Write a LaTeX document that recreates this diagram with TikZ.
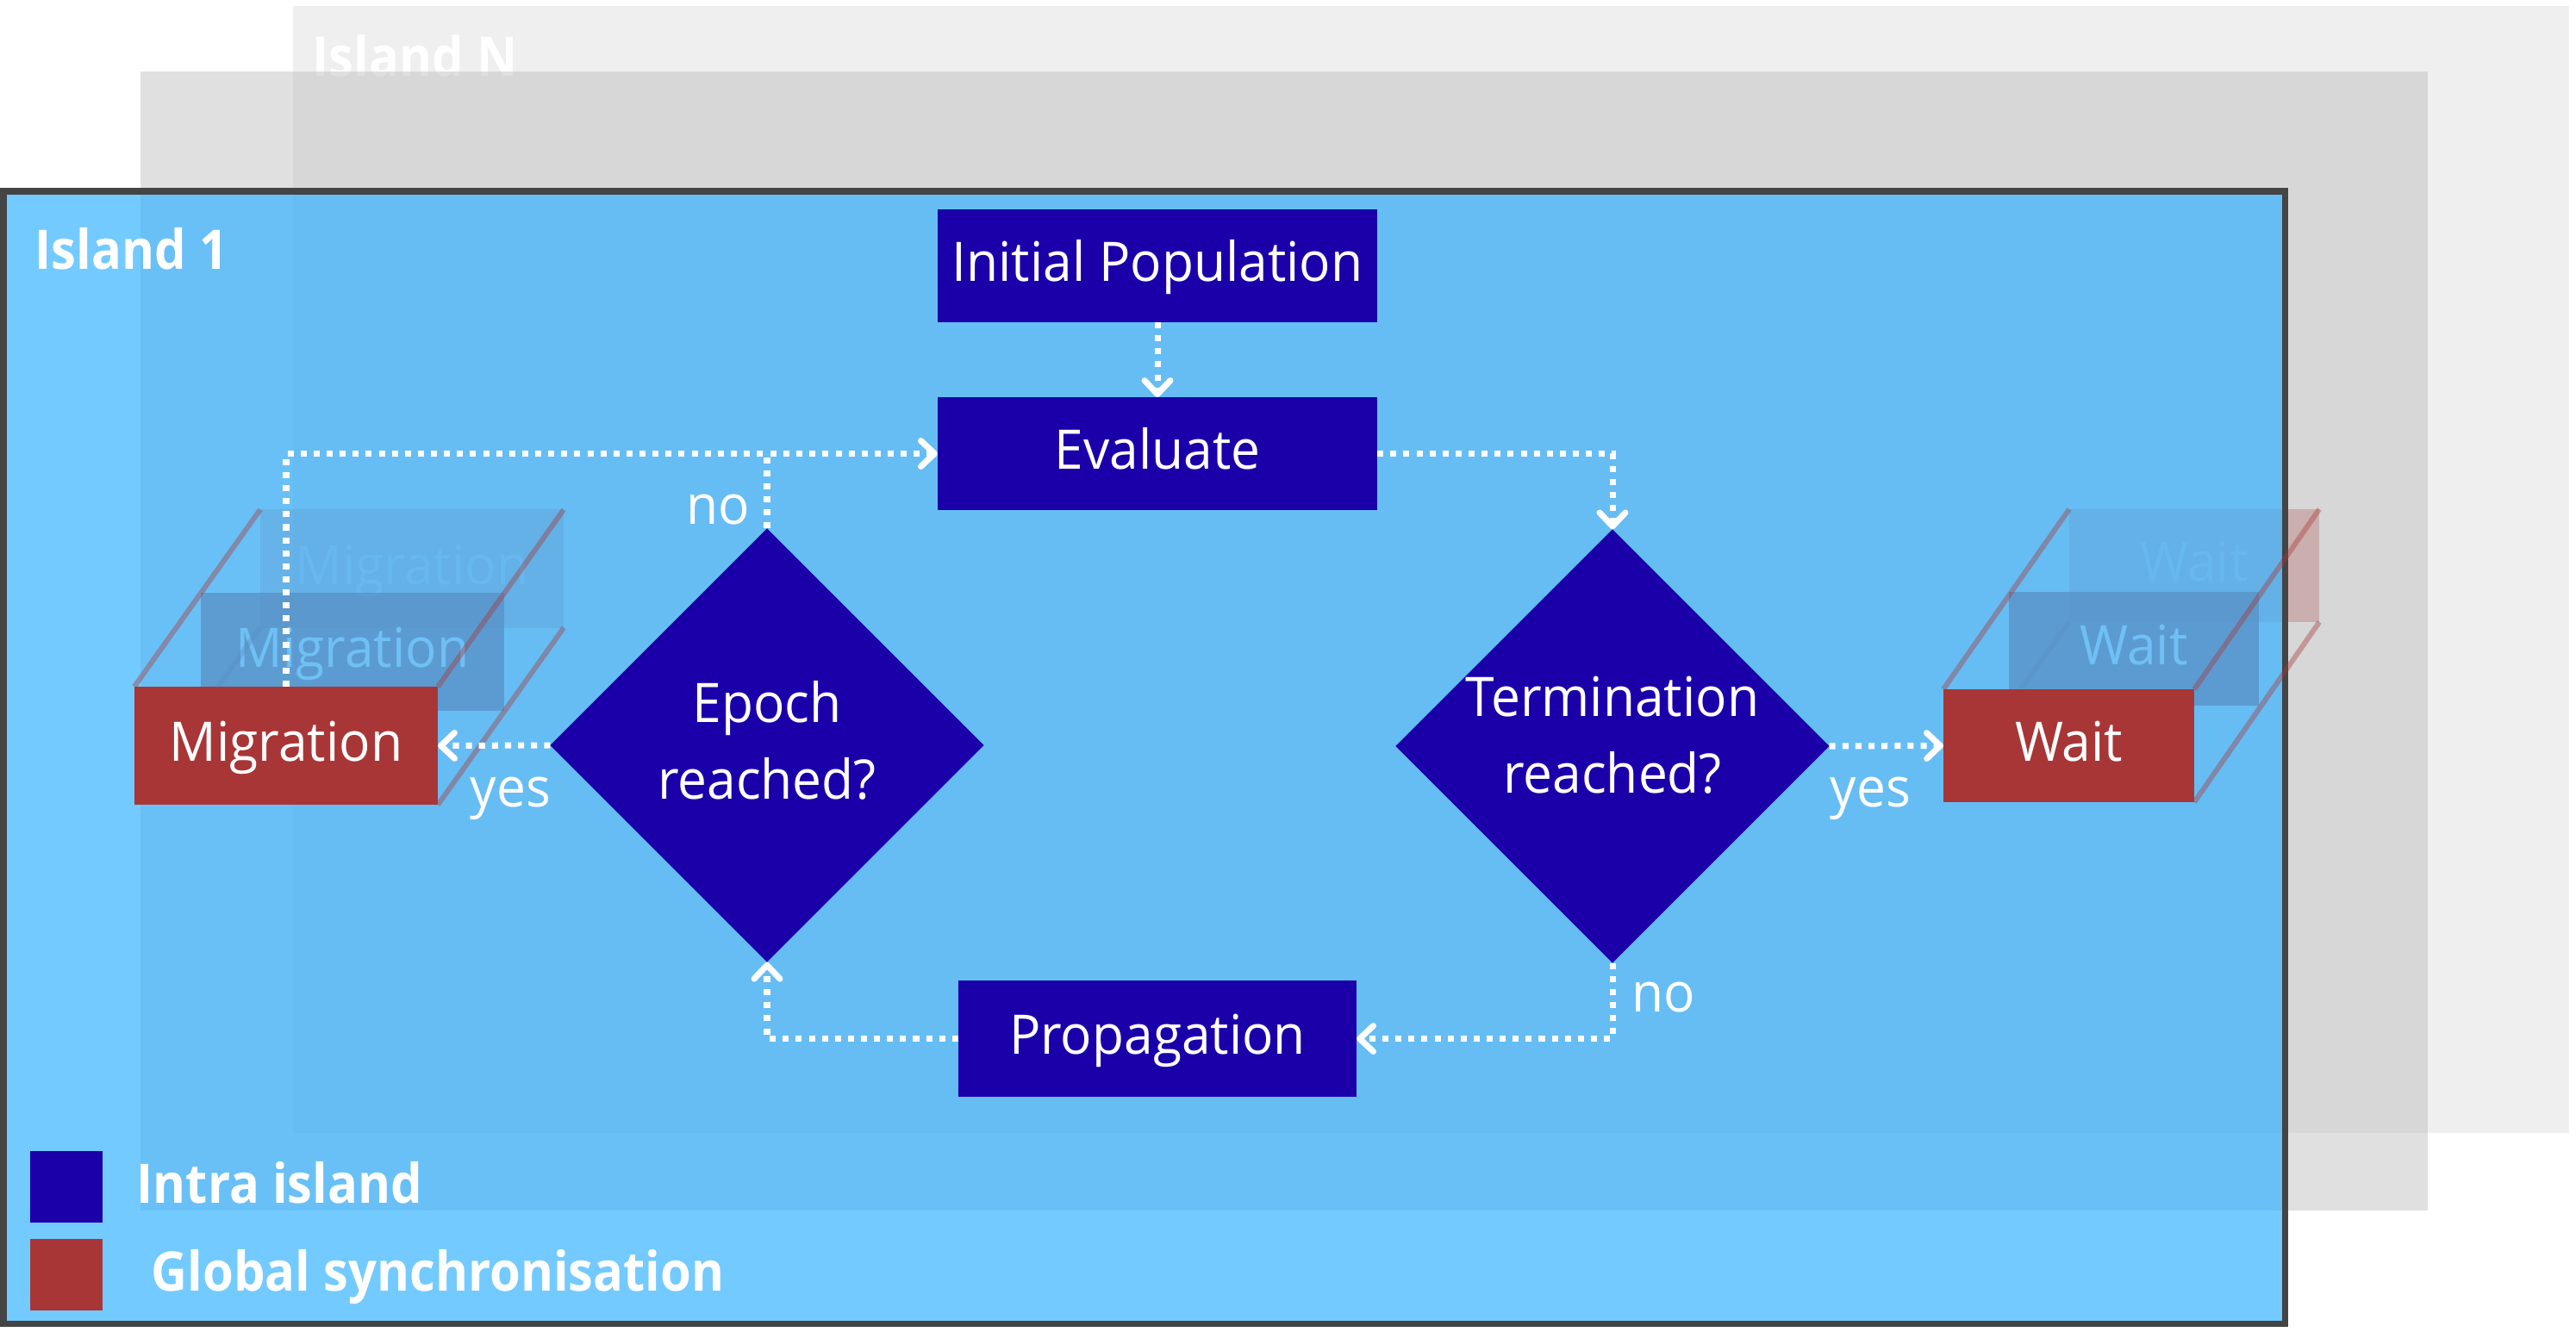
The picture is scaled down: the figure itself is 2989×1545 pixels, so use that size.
\documentclass[tikz,border=0pt]{standalone}
\usepackage{fontspec}
\setmainfont{Open Sans}[FakeStretch=0.955]
\newfontfamily\islfamily{Open Sans}[FakeStretch=0.915]
\usetikzlibrary{positioning, calc, shapes.geometric, arrows.meta}
\definecolor{intra}{RGB}{27,0,170}
\definecolor{sync}{RGB}{168,54,54}
\definecolor{sea}{RGB}{55,179,255}
\definecolor{frame}{RGB}{68,68,68}
\definecolor{layerN}{RGB}{239,239,239}
\definecolor{layertwo}{RGB}{193,193,193}
\newcommand\boxfont{\fontsize{18pt}{25.3pt}\selectfont}
\newcommand\islfont{\islfamily\fontsize{18pt}{22pt}\selectfont\bfseries}
\newcommand\ask[2]{\makebox[0pt]{\begin{tabular}{@{}c@{}}#1\\#2\end{tabular}}}

\begin{document}
\begin{tikzpicture}[x=0.01cm,y=-0.01cm,
    >={Straight Barb[length=4.5pt,width=8.5pt,round]},
    box/.style={fill=intra,text=white,font=\boxfont,inner sep=0pt,outer sep=0pt,
        text height=14pt,text depth=3.5pt},
    syncbox/.style={box,fill=sync},
    ghost/.style={box,fill=sync,text=white},
    decision/.style={diamond,aspect=1,fill=intra,text=white,font=\boxfont,
        inner sep=0pt,outer sep=0pt,minimum size=5.03cm},
    flow/.style={white,line width=2pt,dash pattern=on 2pt off 2.3pt},
    lbl/.style={text=white,font=\boxfont,inner sep=0pt,anchor=base west},
    isl/.style={text=white,font=\islfont,inner sep=0pt,anchor=base west},
    edge3d/.style={sync,line width=1.7pt,opacity=.4},
    key/.style={minimum width=.84cm,minimum height=.83cm,inner sep=0pt}]
  \useasboundingbox (0,0) rectangle (2989,1545);

  % 奥の島
  \fill[layerN] (340,7) rectangle (2981,1315);
  \node[isl] (islN) at (362,88) {Island N};
  \fill[layertwo,fill opacity=.5] (163,83) rectangle (2817,1405);

  % 他の島のコピー
  \node[ghost,minimum width=3.52cm,minimum height=1.37cm,fill opacity=.25,text opacity=.3] (migr3) at (478,660) {Migration};
  \node[ghost,minimum width=3.52cm,minimum height=1.37cm,fill opacity=.7,text opacity=.8] (migr2) at (409,756.5) {Migration};
  \node[ghost,minimum width=2.90cm,minimum height=1.31cm,fill opacity=.25,text opacity=.3] (wait3) at (2546,656.5) {Wait};
  \node[ghost,minimum width=2.90cm,minimum height=1.31cm,fill opacity=.7,text opacity=.8] (wait2) at (2476,753) {Wait};
  \foreach\G in{migr,wait}\draw[edge3d] (\G3.south west) -- ($(\G3.south west)!2!(\G2.south west)$);%隠れた辺

  % Island 1
  \draw[frame,line width=2pt,fill=sea,fill opacity=.7] (4,222) rectangle (2651,1536);
  \node[isl] (isl1) at (40,312) {Island 1};

  \node[box,minimum width=5.10cm,minimum height=1.31cm] (init) at (1343,308.5) {Initial Population};
  \node[box,minimum width=5.10cm,minimum height=1.31cm] (eval) at (1343,526.5) {Evaluate};
  \node[decision] (epoch) at (890,865) {\ask{Epoch}{reached?}};
  \node[decision] (term) at (1871,866) {\raisebox{2.3pt}[\height][\depth]{\ask{Termination}{reached?}}};
  \node[box,minimum width=4.62cm,minimum height=1.35cm] (prop) at (1343,1205.5) {Propagation};
  \node[syncbox,minimum width=3.52cm,minimum height=1.37cm] (migr) at (332,865.5) {Migration};
  \node[syncbox,minimum width=2.91cm,minimum height=1.31cm] (wait) at (2400.5,865.5) {Wait};
  \foreach\G in{migr,wait}\foreach\A in{north west,north east,south east}\draw[edge3d] (\G.\A) -- (\G3.\A);

  % 矢印
  \draw[flow,->] (init) -- (eval);
  \draw[flow,->] (eval) -| (term);
  \draw[flow,->] (term.east) -- (wait.west);
  \draw[flow,->] (term) |- (prop);
  \draw[flow,->] (prop) -| (epoch);
  \draw[flow,->] (epoch.west) -- (migr.east);
  \draw[flow,->] (epoch) |- (eval);
  \draw[flow] (migr) |- (epoch.north |- eval.west);
  \node[lbl] (noepoch) at (796,608) {no};
  \node[lbl] (yesepoch) at (545,936) {yes};
  \node[lbl] (noterm) at (1893,1174) {no};
  \node[lbl] (yesterm) at (2123,936) {yes};

  % 凡例
  \node[key,fill=intra] (keyintra) at (77,1377.5) {};
  \node[key,fill=sync] (keysync) at (77,1479.5) {};
  \node[isl] (txtintra) at (158,1396) {Intra island};
  \node[isl] (txtsync) at (175,1498) {Global synchronisation};
\end{tikzpicture}
\end{document}
